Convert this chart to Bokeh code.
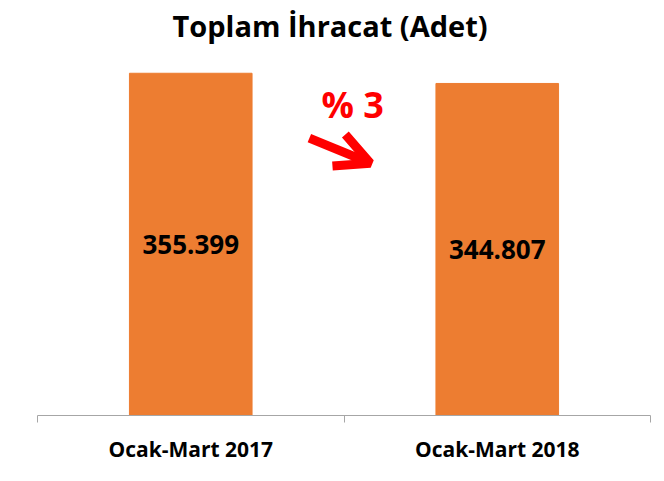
from bokeh.plotting import figure
from bokeh.models import ColumnDataSource, Range1d, FixedTicker, Arrow, OpenHead, Label
from bokeh.embed import file_html
from bokeh.resources import INLINE
from bokeh.core.properties import value
import numpy as np

categories = ["Ocak-Mart 2017", "Ocak-Mart 2018"]
values = [355399, 344807]
value_labels = ["355.399", "344.807"]
change_label = "% 3"

xs = np.arange(len(categories)) + 0.5
src = ColumnDataSource(dict(x=xs, top=values, mid=[v / 2 for v in values], lab=value_labels))

p = figure(width=656, height=473, output_backend="svg", toolbar_location=None,
           x_range=Range1d(0, len(categories)), y_range=Range1d(0, 378000),
           min_border_left=37, min_border_right=6, min_border_top=50, min_border_bottom=58,
           title="Toplam İhracat (Adet)")
p.title.align = "left"
p.title.offset = 135
p.title.vertical_align = "top"
p.title.text_line_height = 0.8
p.title.text_font = "Open Sans"
p.title.text_font_style = "bold"
p.title.text_font_size = "29px"
p.title.text_color = "black"

p.vbar(x="x", top="top", width=0.4, source=src, color="#ED7D31")
p.text(x="x", y="mid", text="lab", source=src, text_align="center", text_baseline="middle",
       text_font=value("Open Sans"), text_font_style="bold", text_font_size="26px", text_color="black")

p.yaxis.visible = False
p.xgrid.visible = False
p.ygrid.visible = False
p.outline_line_color = None

ax = p.xaxis[0]
ax.ticker = FixedTicker(ticks=list(xs), minor_ticks=list(np.arange(len(categories) + 1)))
ax.major_label_overrides = {float(x): c for x, c in zip(xs, categories)}
ax.major_tick_line_color = None
ax.minor_tick_line_color = "#a6a6a6"
ax.minor_tick_in = 0
ax.minor_tick_out = 7
ax.axis_line_color = "#a6a6a6"
ax.major_label_standoff = 12
ax.major_label_text_font = "Open Sans"
ax.major_label_text_font_style = "bold"
ax.major_label_text_font_size = "21px"
ax.major_label_text_color = "black"

p.add_layout(Label(x=1.028, y=323000, text=change_label, text_align="center", text_baseline="middle",
                   text_font="Open Sans", text_font_style="bold", text_font_size="36px", text_color="#FF0000"))
p.add_layout(Arrow(x_start=0.887, y_start=288000, x_end=1.086, y_end=262000,
                   line_color="#FF0000", line_width=9,
                   end=OpenHead(size=34, line_width=9, line_color="#FF0000")))

open("out.html", "w").write(file_html(p, INLINE))
